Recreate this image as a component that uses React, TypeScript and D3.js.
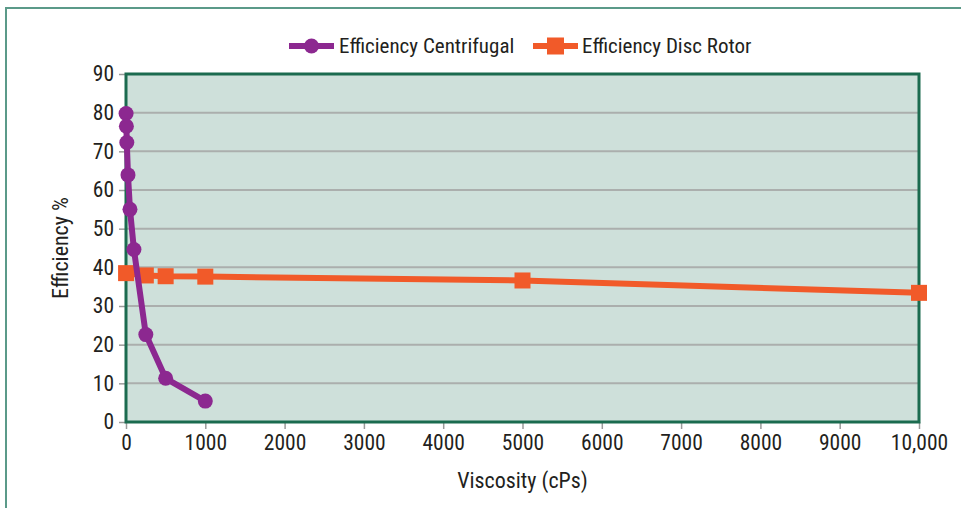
import React, { useEffect, useRef } from 'react';
import * as d3 from 'd3';

const centrifugalX = [1, 5, 10, 25, 50, 100, 250, 500, 1000];
const centrifugalY = [79.8, 76.5, 72.3, 63.9, 55.0, 44.6, 22.6, 11.3, 5.4];
const discX = [1, 250, 500, 1000, 5000, 10000];
const discY = [38.5, 37.9, 37.7, 37.6, 36.6, 33.4];
const xTicks = [0, 1000, 2000, 3000, 4000, 5000, 6000, 7000, 8000, 9000, 10000];
const yTicks = [0, 10, 20, 30, 40, 50, 60, 70, 80, 90];
const seriesNames = ['Efficiency Centrifugal', 'Efficiency Disc Rotor'];

const PURPLE = '#8C2890';
const ORANGE = '#F15A29';
const FONT = '"Liberation Sans Narrow", "Arial Narrow", "Roboto Condensed", sans-serif';

const App: React.FC = () => {
  const svgRef = useRef<SVGSVGElement>(null);
  const width = 961;
  const height = 508;
  const margin = { top: 74, right: 42, bottom: 86, left: 126 };

  useEffect(() => {
    if (!svgRef.current) return;
    const svg = d3.select(svgRef.current);
    svg.selectAll('*').remove();

    const innerWidth = width - margin.left - margin.right;
    const innerHeight = height - margin.top - margin.bottom;

    const x = d3.scaleLinear().domain([0, 10000]).range([0, innerWidth]);
    const y = d3.scaleLinear().domain([0, 90]).range([innerHeight, 0]);

    // outer frame
    svg.append('rect')
      .attr('x', 6).attr('y', 8)
      .attr('width', width).attr('height', height)
      .attr('fill', 'none')
      .attr('stroke', '#5B9A89')
      .attr('stroke-width', 2);

    const g = svg.append('g').attr('transform', `translate(${margin.left},${margin.top})`);

    g.append('rect')
      .attr('width', innerWidth).attr('height', innerHeight)
      .attr('fill', '#CEE0DA');

    g.selectAll('.grid')
      .data(yTicks.filter(t => t > 0 && t < 90))
      .enter().append('line')
      .attr('x1', 0).attr('x2', innerWidth)
      .attr('y1', d => y(d)).attr('y2', d => y(d))
      .attr('stroke', '#ABAFAD').attr('stroke-width', 2);

    // axes
    const yAxis = d3.axisLeft(y).tickValues(yTicks).tickSize(7).tickPadding(5);
    const xAxis = d3.axisBottom(x).tickValues(xTicks).tickSize(7).tickPadding(6)
      .tickFormat(d => (+d === 10000 ? '10,000' : String(d)));

    const ya = g.append('g').call(yAxis);
    const xa = g.append('g').attr('transform', `translate(0,${innerHeight})`).call(xAxis);
    [ya, xa].forEach(a => {
      a.select('.domain').remove();
      a.selectAll('line').attr('stroke', '#9A9A9A').attr('stroke-width', 1.5);
      a.selectAll('text')
        .attr('fill', '#231F20')
        .style('font-family', FONT)
        .style('font-size', '21.5px');
    });

    g.append('rect')
      .attr('width', innerWidth).attr('height', innerHeight)
      .attr('fill', 'none')
      .attr('stroke', '#1B6B4F').attr('stroke-width', 3);

    const line = d3.line<[number, number]>().x(d => x(d[0])).y(d => y(d[1]));
    const cData = centrifugalX.map((v, i) => [v, centrifugalY[i]] as [number, number]);
    const dData = discX.map((v, i) => [v, discY[i]] as [number, number]);

    g.append('path').datum(dData)
      .attr('d', line).attr('fill', 'none')
      .attr('stroke', ORANGE).attr('stroke-width', 6);
    g.selectAll('.sq').data(dData).enter().append('rect')
      .attr('x', d => x(d[0]) - 8).attr('y', d => y(d[1]) - 8)
      .attr('width', 16).attr('height', 16)
      .attr('fill', ORANGE);

    g.append('path').datum(cData)
      .attr('d', line).attr('fill', 'none')
      .attr('stroke', PURPLE).attr('stroke-width', 6)
      .attr('stroke-linejoin', 'round');
    g.selectAll('.dot').data(cData).enter().append('circle')
      .attr('cx', d => x(d[0])).attr('cy', d => y(d[1]))
      .attr('r', 7.5).attr('fill', PURPLE);

    // axis labels
    svg.append('text')
      .attr('transform', `translate(62,${margin.top + innerHeight / 2}) rotate(-90)`)
      .attr('text-anchor', 'middle').attr('dominant-baseline', 'middle')
      .style('font-family', FONT).style('font-size', '22px').attr('fill', '#231F20')
      .text('Efficiency %');
    svg.append('text')
      .attr('x', margin.left + innerWidth / 2).attr('y', 488)
      .attr('text-anchor', 'middle')
      .style('font-family', FONT).style('font-size', '22px').attr('fill', '#231F20')
      .text('Viscosity (cPs)');

    // legend
    const lg = svg.append('g').attr('transform', 'translate(0,46)');
    const l1 = lg.append('g').attr('transform', 'translate(289,0)');
    l1.append('line').attr('x1', 0).attr('x2', 45).attr('stroke', PURPLE).attr('stroke-width', 6);
    l1.append('circle').attr('cx', 22.5).attr('r', 7.5).attr('fill', PURPLE);
    l1.append('text').attr('x', 50).attr('dy', '0.35em')
      .style('font-family', FONT).style('font-size', '21px').attr('fill', '#231F20')
      .text(seriesNames[0]);
    const l2 = lg.append('g').attr('transform', 'translate(533,0)');
    l2.append('line').attr('x1', 0).attr('x2', 45).attr('stroke', ORANGE).attr('stroke-width', 6);
    l2.append('rect').attr('x', 14).attr('y', -8.5).attr('width', 17).attr('height', 17).attr('fill', ORANGE);
    l2.append('text').attr('x', 49).attr('dy', '0.35em')
      .style('font-family', FONT).style('font-size', '21px').attr('fill', '#231F20')
      .text(seriesNames[1]);
  }, []);

  return (
    <svg ref={svgRef} width={width} height={height}
      style={{ position: 'absolute', left: 0, top: 0, background: '#fff' }} />
  );
};

export default App;
